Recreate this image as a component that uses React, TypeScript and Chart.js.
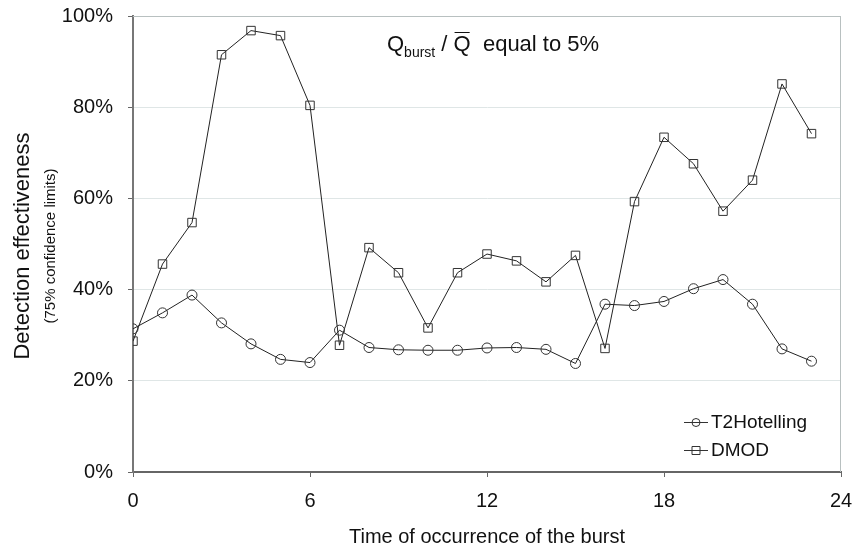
import React, { useEffect, useRef } from "react";
import { Chart, registerables } from "chart.js";

Chart.register(...registerables);

const hours = [0, 1, 2, 3, 4, 5, 6, 7, 8, 9, 10, 11, 12, 13, 14, 15, 16, 17, 18, 19, 20, 21, 22, 23];
const t2Hotelling = [31.4, 34.9, 38.8, 32.7, 28.1, 24.7, 24.0, 31.1, 27.3, 26.8, 26.7, 26.7, 27.2, 27.3, 26.9, 23.8, 36.8, 36.5, 37.4, 40.2, 42.2, 36.8, 27.0, 24.3];
const dmod = [28.7, 45.6, 54.7, 91.5, 96.8, 95.7, 80.4, 27.8, 49.2, 43.7, 31.6, 43.7, 47.8, 46.3, 41.7, 47.5, 27.1, 59.3, 73.4, 67.6, 57.2, 64.0, 85.1, 74.2];
const xTicks = [0, 6, 12, 18, 24];
const yTicks = [0, 20, 40, 60, 80, 100];
const seriesNames = ["T2Hotelling", "DMOD"];

const FONT = "'Liberation Sans', Arial, sans-serif";
const TEXT = "#111";

const decorPlugin = {
  id: "decor",
  afterDraw(chart: any) {
    const ctx = chart.ctx as CanvasRenderingContext2D;
    const a = chart.chartArea;
    ctx.save();
    // top & right frame lines
    ctx.strokeStyle = "#b8c0c0";
    ctx.lineWidth = 1;
    ctx.beginPath();
    ctx.moveTo(a.left, a.top + 0.5);
    ctx.lineTo(a.right, a.top + 0.5);
    ctx.moveTo(a.right - 0.5, a.top);
    ctx.lineTo(a.right - 0.5, a.bottom);
    ctx.stroke();

    ctx.fillStyle = TEXT;
    // Y title
    ctx.save();
    ctx.translate(23, 246);
    ctx.rotate(-Math.PI / 2);
    ctx.textAlign = "center";
    ctx.textBaseline = "middle";
    ctx.font = `22px ${FONT}`;
    ctx.fillText("Detection effectiveness", 0, 0);
    ctx.font = `15px ${FONT}`;
    ctx.fillText("(75% confidence limits)", 0, 28);
    ctx.restore();

    // X title
    ctx.textAlign = "center";
    ctx.textBaseline = "middle";
    ctx.font = `20px ${FONT}`;
    ctx.fillText("Time of occurrence of the burst", (a.left + a.right) / 2, 537);

    // Annotation
    ctx.textAlign = "left";
    ctx.textBaseline = "alphabetic";
    let x = 387;
    const base = 51;
    ctx.font = `22px ${FONT}`;
    ctx.fillText("Q", x, base);
    x += ctx.measureText("Q").width;
    ctx.font = `14px ${FONT}`;
    ctx.fillText("burst", x, base + 6);
    x += ctx.measureText("burst").width;
    ctx.font = `22px ${FONT}`;
    ctx.fillText(" / ", x, base);
    x += ctx.measureText(" / ").width;
    const qw = ctx.measureText("Q").width;
    ctx.fillText("Q", x, base);
    ctx.strokeStyle = TEXT;
    ctx.lineWidth = 1;
    ctx.beginPath();
    ctx.moveTo(x + 1, base - 18.5);
    ctx.lineTo(x + qw - 1, base - 18.5);
    ctx.stroke();
    x += qw;
    ctx.fillText("  equal to 5%", x, base);

    // Legend
    ctx.font = `19px ${FONT}`;
    ctx.textBaseline = "middle";
    const rows = [
      { y: 422, name: seriesNames[0], shape: "circle" },
      { y: 450, name: seriesNames[1], shape: "rect" },
    ];
    rows.forEach((r) => {
      ctx.strokeStyle = "#333";
      ctx.lineWidth = 1;
      ctx.beginPath();
      ctx.moveTo(684, r.y + 0.5);
      ctx.lineTo(708, r.y + 0.5);
      ctx.stroke();
      ctx.beginPath();
      if (r.shape === "circle") {
        ctx.arc(696, r.y + 0.5, 4, 0, Math.PI * 2);
      } else {
        ctx.rect(692, r.y - 3.5, 8, 8);
      }
      ctx.stroke();
      ctx.fillStyle = TEXT;
      ctx.fillText(r.name, 711, r.y + 1);
    });
    ctx.restore();
  },
};

export default function App() {
  const ref = useRef<HTMLCanvasElement | null>(null);
  useEffect(() => {
    document.body.style.margin = "0";
    if (!ref.current) return;
    const chart = new Chart(ref.current, {
      type: "line",
      data: {
        datasets: [
          {
            label: seriesNames[0],
            data: hours.map((h, i) => ({ x: h, y: t2Hotelling[i] })),
            borderColor: "#222",
            borderWidth: 1,
            pointStyle: "circle",
            pointRadius: 5,
            pointBorderColor: "#333",
            pointBackgroundColor: "rgba(0,0,0,0)",
            pointBorderWidth: 1,
            tension: 0,
          },
          {
            label: seriesNames[1],
            data: hours.map((h, i) => ({ x: h, y: dmod[i] })),
            borderColor: "#222",
            borderWidth: 1,
            pointStyle: "rect",
            pointRadius: 6,
            pointBorderColor: "#333",
            pointBackgroundColor: "rgba(0,0,0,0)",
            pointBorderWidth: 1,
            tension: 0,
          },
        ],
      },
      options: {
        animation: false,
        responsive: false,
        maintainAspectRatio: false,
        layout: { padding: { top: 16, right: 16, left: 0, bottom: 0 } },
        plugins: { legend: { display: false }, tooltip: { enabled: false } },
        scales: {
          x: {
            type: "linear",
            min: 0,
            max: 24,
            afterBuildTicks: (s: any) => {
              s.ticks = xTicks.map((v) => ({ value: v }));
            },
            afterFit: (s: any) => {
              s.height = 77;
              s.paddingLeft = 0;
              s.paddingRight = 0;
              s.paddingTop = 0;
              s.paddingBottom = 0;
            },
            grid: {
              drawOnChartArea: false,
              drawTicks: true,
              tickLength: 5,
              tickColor: "#666",
            },
            border: { color: "#666", width: 2 },
            ticks: {
              font: { family: FONT, size: 20 },
              color: TEXT,
              padding: 12,
              maxRotation: 0,
            },
          },
          y: {
            min: 0,
            max: 100,
            afterBuildTicks: (s: any) => {
              s.ticks = yTicks.map((v) => ({ value: v }));
            },
            afterFit: (s: any) => {
              s.width = 133;
              s.paddingLeft = 0;
              s.paddingRight = 0;
              s.paddingTop = 0;
              s.paddingBottom = 0;
            },
            grid: {
              color: "#dfe6e6",
              tickColor: "#666",
              tickLength: 5,
            },
            border: { color: "#777", width: 2 },
            ticks: {
              font: { family: FONT, size: 20 },
              color: TEXT,
              padding: 15,
              callback: (v: any) => `${v}%`,
            },
          },
        },
      },
      plugins: [decorPlugin],
    });
    return () => chart.destroy();
  }, []);
  return <canvas ref={ref} width={857} height={549} style={{ display: "block" }} />;
}
